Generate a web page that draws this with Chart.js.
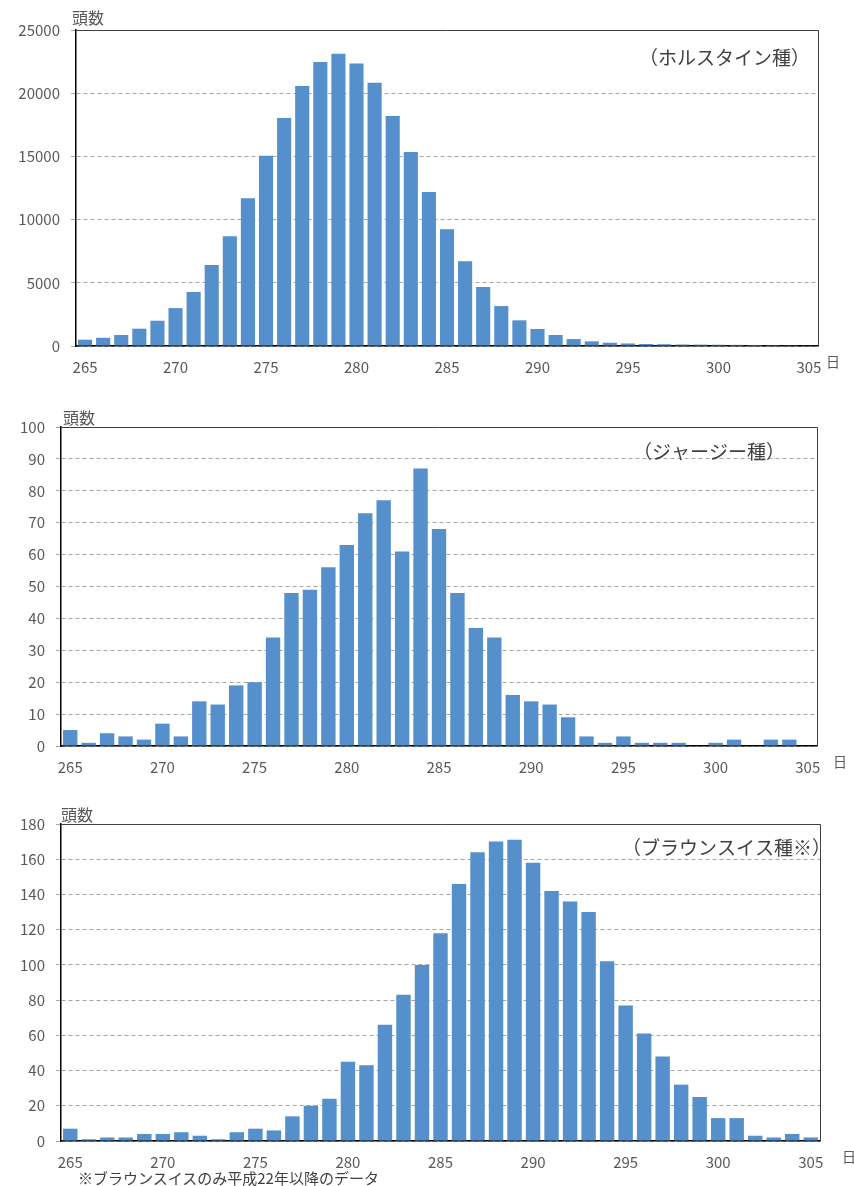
<!DOCTYPE html>
<html>
<head>
<meta charset="utf-8">
<script src="https://cdn.jsdelivr.net/npm/chart.js@4"></script>
<style>
body { margin: 0; background: #fff; width: 854px; height: 1186px; position: relative; overflow: hidden; font-family: "Noto Sans CJK JP", sans-serif; }
.box { position: absolute; left: 0; width: 854px; }
#note { position: absolute; left: 78px; top: 1168px; font-size: 15px; line-height: 20px; color: #404040; white-space: nowrap; }
</style>
</head>
<body>
<div class="box" style="top:0;height:380px"><canvas id="holsteinChart"></canvas></div>
<div class="box" style="top:395px;height:385px"><canvas id="jerseyChart"></canvas></div>
<div class="box" style="top:790px;height:385px"><canvas id="brownChart"></canvas></div>
<div id="note">※ブラウンスイスのみ平成22年以降のデータ</div>
<script>
const days = [265, 266, 267, 268, 269, 270, 271, 272, 273, 274, 275, 276, 277, 278, 279, 280, 281, 282, 283, 284,
    285, 286, 287, 288, 289, 290, 291, 292, 293, 294, 295, 296, 297, 298, 299, 300, 301, 302, 303, 304, 305]

const holsteinCounts = [500, 650, 870, 1370, 2000, 3000, 4270, 6400, 8680, 11680, 15060, 18040, 20570, 22470, 23130,
    22340, 20830, 18200, 15350, 12180, 9230, 6700, 4670, 3160, 2030, 1345, 870, 550, 370, 260, 200, 160,
    140, 120, 110, 100, 90, 80, 70, 60, 50]

const jerseyCounts = [5, 1, 4, 3, 2, 7, 3, 14, 13, 19, 20, 34, 48, 49, 56, 63, 73, 77, 61, 87,
    68, 48, 37, 34, 16, 14, 13, 9, 3, 1, 3, 1, 1, 1, 0, 1, 2, 0, 2, 2, 0]

const brownSwissCounts = [7, 1, 2, 2, 4, 4, 5, 3, 1, 5, 7, 6, 14, 20, 24, 45, 43, 66, 83, 100,
    118, 146, 164, 170, 171, 158, 142, 136, 130, 102, 77, 61, 48, 32, 25, 13, 13, 3, 2, 4, 2]

const yMax = { holstein: 25000, jersey: 100, brown: 180 }
const yStep = { holstein: 5000, jersey: 10, brown: 20 }

const barColor = '#5590cc'
const textColor = '#595959'
const fontFamily = '"Noto Sans CJK JP", "Noto Sans", sans-serif'

// frame + the small labels around each plot
const frameText = {
    id: 'frameText',
    afterDraw(chart, args, opts) {
        const { ctx, chartArea: a } = chart
        ctx.save()
        ctx.strokeStyle = '#404040'
        ctx.lineWidth = 1
        ctx.beginPath()
        ctx.moveTo(a.left, a.top + 0.5)
        ctx.lineTo(a.right + 0.5, a.top + 0.5)
        ctx.lineTo(a.right + 0.5, a.bottom)
        ctx.stroke()

        ctx.fillStyle = textColor
        ctx.textBaseline = 'middle'
        ctx.font = '16px ' + fontFamily
        ctx.textAlign = 'left'
        ctx.fillText('頭数', a.left + opts.unitDx, a.top + opts.unitDy)

        ctx.font = '14px ' + fontFamily
        ctx.fillText('日', a.right + opts.dayDx, a.bottom + 16)

        ctx.fillStyle = '#404040'
        ctx.font = '19px ' + fontFamily
        ctx.textAlign = 'right'
        ctx.fillText(opts.breed, a.right + opts.breedDx, a.top + opts.breedDy)
        ctx.restore()
    }
}

const renderBreedChart = (id, values, max, step, axisWidth, pad, text) => {

    const data = {
        labels: days,
        datasets: [{
            data: values,
            backgroundColor: barColor,
            borderWidth: 0,
            categoryPercentage: 1,
            barPercentage: 0.78
        }]
    }

    const options = {
        responsive: true,
        maintainAspectRatio: false,
        animation: false,
        layout: { padding: pad },
        plugins: {
            legend: { display: false },
            tooltip: { enabled: false },
            frameText: text
        },
        scales: {
            x: {
                grid: { display: false, drawTicks: false },
                border: { display: true, color: '#000', width: 1.5 },
                ticks: {
                    autoSkip: false,
                    maxRotation: 0,
                    padding: 12,
                    color: textColor,
                    font: { size: 15, family: fontFamily },
                    callback: (v, i) => i % 5 === 0 ? days[i] : ''
                },
                afterFit: s => { s.height = 34 }
            },
            y: {
                min: 0,
                max: max,
                grid: {
                    color: '#a6a6a6',
                    tickColor: '#a6a6a6',
                    tickLength: 5,
                    tickBorderDash: [4, 3]
                },
                border: { display: true, color: '#000', width: 1.5, dash: [4, 3] },
                ticks: {
                    stepSize: step,
                    padding: 11,
                    color: textColor,
                    font: { size: 15, family: fontFamily },
                    callback: v => String(v)
                },
                afterFit: s => { s.width = axisWidth }
            }
        }
    }

    new Chart(id, { type: 'bar', data, options, plugins: [frameText] })
}

renderBreedChart('holsteinChart', holsteinCounts, yMax.holstein, yStep.holstein, 76,
    { top: 30, right: 36, bottom: 0, left: 0 },
    { breed: '（ホルスタイン種）', breedDx: -8, breedDy: 28, unitDx: -4, unitDy: -12, dayDx: 8 })

renderBreedChart('jerseyChart', jerseyCounts, yMax.jersey, yStep.jersey, 61,
    { top: 32, right: 37, bottom: 0, left: 0 },
    { breed: '（ジャージー種）', breedDx: -32, breedDy: 25, unitDx: 2, unitDy: -9, dayDx: 16 })

renderBreedChart('brownChart', brownSwissCounts, yMax.brown, yStep.brown, 61,
    { top: 34, right: 34, bottom: 0, left: 0 },
    { breed: '（ブラウンスイス種※）', breedDx: 11, breedDy: 24, unitDx: 0, unitDy: -9, dayDx: 22 })
</script>
</body>
</html>
